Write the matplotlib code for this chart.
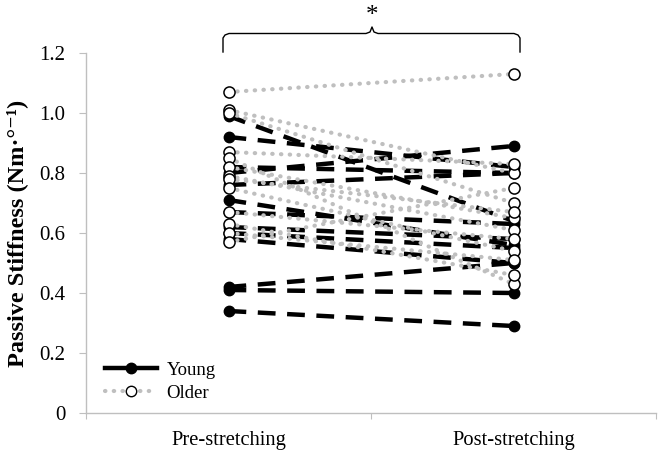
import matplotlib
matplotlib.use("Agg")
import matplotlib.pyplot as plt
from matplotlib.lines import Line2D

categories = ["Pre-stretching", "Post-stretching"]
young_pre = [0.99, 0.92, 0.82, 0.80, 0.76, 0.71, 0.67, 0.62, 0.60, 0.58, 0.42, 0.41, 0.34]
young_post = [0.64, 0.82, 0.80, 0.89, 0.80, 0.56, 0.63, 0.58, 0.55, 0.50, 0.50, 0.40, 0.29]
older_pre = [1.07, 1.01, 1.00, 0.87, 0.85, 0.82, 0.79, 0.78, 0.75, 0.67, 0.63, 0.60, 0.57]
older_post = [1.13, 0.80, 0.70, 0.83, 0.43, 0.65, 0.61, 0.67, 0.54, 0.58, 0.46, 0.51, 0.75]
yticks = [0, 0.2, 0.4, 0.6, 0.8, 1.0, 1.2]
ytick_labels = ["0", "0.2", "0.4", "0.6", "0.8", "1.0", "1.2"]

serif = ["Liberation Serif", "DejaVu Serif"]
plt.rcParams["font.family"] = serif

fig = plt.figure(figsize=(6.61, 4.53), dpi=100)
ax = fig.add_axes([86/661, 1-413/453, (656-86)/661, 360/453])

xpos = [0.5, 1.5]
for a, b in zip(young_pre, young_post):
    ax.plot(xpos, [a, b], color="black", lw=3.2, linestyle=(0, (4, 2.6)),
            marker="o", markersize=7.5, markerfacecolor="black", markeredgecolor="black",
            zorder=2)
for a, b in zip(older_pre, older_post):
    ax.plot(xpos, [a, b], color="#BFBFBF", lw=3, linestyle=(0, (0.1, 2.0)),
            dash_capstyle="round", zorder=3)
for a, b in zip(older_pre, older_post):
    ax.plot(xpos, [a, b], linestyle="none", marker="o", markersize=8,
            markerfacecolor="white", markeredgecolor="black", markeredgewidth=1.1,
            zorder=4)

ax.set_xlim(0, 2)
ax.set_ylim(0, 1.2)
ax.set_yticks(yticks)
ax.set_yticklabels(ytick_labels)
ax.set_xticks([0, 1, 2])
ax.set_xticklabels([])
ax.set_xticks(xpos, minor=True)
ax.set_xticklabels(categories, minor=True)
ax.tick_params(axis="x", which="minor", length=0, pad=13, labelsize=14.8)
ax.tick_params(axis="x", which="major", length=4, color="#BFBFBF", direction="out")
ax.tick_params(axis="y", length=5, color="#BFBFBF", direction="out", labelsize=15, pad=10)
for s in ["top", "right"]:
    ax.spines[s].set_visible(False)
for s in ["left", "bottom"]:
    ax.spines[s].set_color("#BFBFBF")
    ax.spines[s].set_linewidth(1.0)

ax.set_ylabel("Passive Stiffness (Nm·°⁻¹)", fontsize=17.5, fontweight="bold", labelpad=8)

# legend
h1 = Line2D([], [], color="black", lw=3.2, linestyle="-", marker="o", markersize=7.5,
            markerfacecolor="black")
h2 = Line2D([], [], color="#BFBFBF", lw=3, linestyle=(0, (0.1, 2.0)), dash_capstyle="round",
            marker="o", markersize=7.5, markerfacecolor="white", markeredgecolor="black")
ax.legend([h1, h2], ["Young", "Older"], loc="lower left", bbox_to_anchor=(0.01, -0.005),
          frameon=False, fontsize=13.5, handlelength=2.8, handletextpad=0.5,
          labelspacing=0.3, borderpad=0.2)

# significance bracket
def ypx(p):
    return (413 - p) / 300.0
def xpx(p):
    return (p - 86) / 285.0
bx = [xpx(223), xpx(223), xpx(225), xpx(229), xpx(366), xpx(370), xpx(372),
      xpx(374), xpx(378), xpx(514), xpx(518), xpx(520), xpx(520)]
by = [ypx(52), ypx(38), ypx(35), ypx(33.5), ypx(33.5), ypx(32), ypx(27),
      ypx(32), ypx(33.5), ypx(33.5), ypx(35), ypx(38), ypx(52)]
ax.plot(bx, by, color="black", lw=1.0, clip_on=False)
ax.text(xpx(372), ypx(16), "*", ha="center", va="center", fontsize=18)

fig.savefig("out.png", dpi=100)
